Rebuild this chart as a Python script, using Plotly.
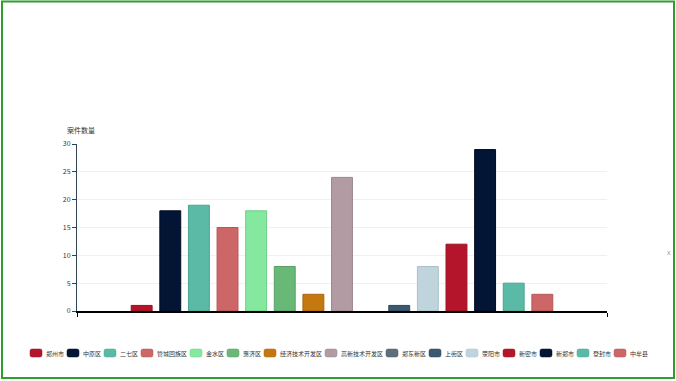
import plotly.graph_objects as go

# ---- data ----
districts = ["郑州市", "中原区", "二七区", "管城回族区", "金水区", "惠济区", "经济技术开发区",
             "高新技术开发区", "郑东新区", "上街区", "荥阳市", "新密市", "新郑市", "登封市", "中牟县"]
case_counts = [1, 18, 19, 15, 18, 8, 3, 24, 0, 1, 8, 12, 29, 5, 3]
category = ["案件"]
y_title = "案件数量"
y_ticks = [0, 5, 10, 15, 20, 25, 30]

palette = ["#b5152b", "#021535", "#5bbaa6", "#cd6666", "#84e89e", "#68b878",
           "#c4780f", "#b39ba3", "#5f6e7b", "#3b5a72", "#bfd4dc"]
outline = ["#9a1020", "#000a20", "#4aa592", "#b85555", "#6fd088", "#569f64",
           "#a8650a", "#9c8690", "#4e5c68", "#2c475c", "#a9c0c9"]

W, H = 676, 381
L, R, T, B = 77, 607, 144, 311
FONT = "Noto Sans CJK SC"


def px(x):
    return (x - L) / (R - L)


def py(y):
    return (B - y) / (B - T)


fig = go.Figure()
for i, (name, v) in enumerate(zip(districts, case_counts)):
    fig.add_trace(go.Bar(
        x=category, y=[v], name=name,
        marker=dict(color=palette[i % len(palette)],
                    line=dict(color=outline[i % len(outline)], width=1 if v > 0 else 0)),
        showlegend=False,
    ))

shapes = []
annotations = []

# outer green frame
shapes.append(dict(type="rect", xref="paper", yref="paper",
                   x0=px(2), x1=px(674), y0=py(378), y1=py(1.5),
                   line=dict(color="#2e9e2e", width=2), fillcolor="rgba(0,0,0,0)"))

# custom legend
fs = 6
gap = 5
sym_w, sym_h = 12, 8
total = sum(sym_w + 2 + fs * len(n) + gap for n in districts) - gap
x = (L + R) / 2 - total / 2 - 4
yc = 353
for i, n in enumerate(districts):
    x0, x1 = x, x + sym_w
    y0, y1 = yc - sym_h / 2, yc + sym_h / 2
    r = 2
    path = (f"M {px(x0+r)},{py(y0)} L {px(x1-r)},{py(y0)} Q {px(x1)},{py(y0)} {px(x1)},{py(y0+r)} "
            f"L {px(x1)},{py(y1-r)} Q {px(x1)},{py(y1)} {px(x1-r)},{py(y1)} "
            f"L {px(x0+r)},{py(y1)} Q {px(x0)},{py(y1)} {px(x0)},{py(y1-r)} "
            f"L {px(x0)},{py(y0+r)} Q {px(x0)},{py(y0)} {px(x0+r)},{py(y0)} Z")
    shapes.append(dict(type="path", xref="paper", yref="paper", path=path,
                       fillcolor=palette[i % len(palette)],
                       line=dict(color=outline[i % len(outline)], width=0.5)))
    annotations.append(dict(xref="paper", yref="paper", x=px(x1 + 2), y=py(yc),
                            xanchor="left", yanchor="middle", showarrow=False,
                            text=n, font=dict(size=fs, color="#333", family=FONT)))
    x = x1 + 2 + fs * len(n) + gap

# y-axis name
annotations.append(dict(xref="paper", yref="paper", x=px(65), y=py(130),
                        xanchor="left", yanchor="middle", showarrow=False,
                        text=y_title, font=dict(size=7, color="#333", family=FONT)))
# small mark on right edge
annotations.append(dict(xref="paper", yref="paper", x=px(669), y=py(252),
                        xanchor="center", yanchor="middle", showarrow=False,
                        text="x", font=dict(size=7, color="#999", family=FONT)))

fig.update_layout(
    width=W, height=H,
    margin=dict(l=L, r=W - R, t=T, b=H - B, pad=0),
    paper_bgcolor="white", plot_bgcolor="white",
    barmode="group", bargap=0.19, bargroupgap=0.27,
    font=dict(family=FONT, size=7, color="#333"),
    shapes=shapes, annotations=annotations,
    showlegend=False,
    xaxis=dict(type="category", showticklabels=False, showline=True, linecolor="#000",
               linewidth=1.5, ticks="outside", tickson="boundaries", ticklen=4,
               tickcolor="#000", showgrid=False, zeroline=False, fixedrange=True),
    yaxis=dict(range=[0, 30], tickvals=y_ticks, showline=True, linecolor="#2f4554",
               linewidth=1, ticks="outside", ticklen=4, tickcolor="#2f4554",
               showgrid=True, gridcolor="#f0f0f0", gridwidth=1, zeroline=False,
               tickfont=dict(size=7, color="#333"), fixedrange=True),
)

fig.write_html("out.html", config={"displayModeBar": False},
               post_script="document.body.style.margin='0';document.body.style.overflow='hidden';")
